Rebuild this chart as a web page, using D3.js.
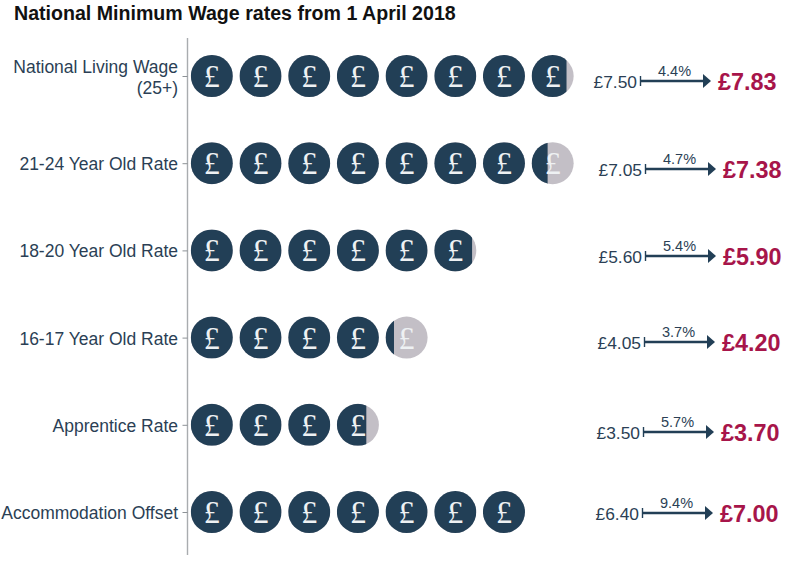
<!DOCTYPE html>
<html><head><meta charset="utf-8">
<script src="https://cdn.jsdelivr.net/npm/d3@7"></script>
<style>html,body{margin:0;padding:0;background:#fff}svg{display:block}</style>
</head><body><div id="c"></div>
<script>
const title = "National Minimum Wage rates from 1 April 2018";
const categories = ["National Living Wage|(25+)","21-24 Year Old Rate","18-20 Year Old Rate","16-17 Year Old Rate","Apprentice Rate","Accommodation Offset"];
const oldRates = [7.50,7.05,5.60,4.05,3.50,6.40];
const newRates = [7.83,7.38,5.90,4.20,3.70,7.00];
const pctRises = ["4.4%","4.7%","5.4%","3.7%","5.7%","9.4%"];
const annotX = [640,645,645,644,643,642];
const annotY = [81,169,256,342,432,513];
const W=802,H=561;
const navy="#223f56", grey="#c3bfc6", crimson="#a7154a", textc="#2b3f55";
const svg=d3.select("#c").append("svg").attr("width",W).attr("height",H);
const defs=svg.append("defs");
const maxCoins=8;
const x=d3.scaleLinear().domain([0,maxCoins]).range([187.5,577]);
const y=d3.scalePoint().domain(categories).range([76,512]);
const r=21;
svg.append("text").attr("x",14).attr("y",20).attr("font-family","Liberation Sans").attr("font-weight","bold").attr("font-size",19.6).attr("fill","#111").text(title);
const axis=d3.axisLeft(y).tickSize(5).tickPadding(3).tickFormat(()=>"" );
const ag=svg.append("g").attr("transform","translate(187.5,0)").call(axis);
ag.select(".domain").attr("d","M0,38V555").attr("stroke","#a9acaf").attr("stroke-width",1.4);
ag.selectAll(".tick line").attr("stroke","#8d9296");
categories.forEach((c,i)=>{
  const g=svg.append("g").attr("transform",`translate(0,${y(c)})`);
  const parts=c.split("|");
  const t=g.append("text").attr("text-anchor","end").attr("font-family","Liberation Sans").attr("font-size",17.5).attr("fill",textc);
  parts.forEach((p,k)=>t.append("tspan").attr("x",178).attr("y",(parts.length>1?-3:7)+k*21).text(p));
  const v=newRates[i], n=Math.ceil(v-1e-9);
  d3.range(n).forEach(k=>{
    const cx=x(k+0.5), frac=Math.min(1,v-k);
    const id=`clip${i}_${k}`;
    defs.append("clipPath").attr("id",id).append("rect").attr("x",cx-r).attr("y",-r).attr("width",2*r*frac).attr("height",2*r);
    g.append("circle").attr("cx",cx).attr("r",r).attr("fill",grey);
    g.append("circle").attr("cx",cx).attr("r",r).attr("fill",navy).attr("clip-path",`url(#${id})`);
    g.append("text").attr("x",cx).attr("y",11).attr("text-anchor","middle").attr("font-family","Liberation Serif").attr("font-size",32).attr("fill","#eef1f3").text("£");
  });
  const ax=annotX[i], ay=annotY[i], aw=71;
  const a=svg.append("g").attr("transform",`translate(${ax},${ay})`);
  a.append("text").attr("x",-3).attr("y",7).attr("text-anchor","end").attr("font-family","Liberation Sans").attr("font-size",17.4).attr("fill",textc).text("£"+d3.format(".2f")(oldRates[i]));
  a.append("line").attr("x1",0).attr("x2",aw-5).attr("y1",0).attr("y2",0).attr("stroke",navy).attr("stroke-width",2.6);
  a.append("line").attr("x1",0.5).attr("x2",0.5).attr("y1",-5).attr("y2",5).attr("stroke",navy).attr("stroke-width",1.4);
  a.append("path").attr("d",`M${aw-8},-7L${aw},0L${aw-8},7Z`).attr("fill",navy);
  a.append("text").attr("x",aw/2-1).attr("y",-5).attr("text-anchor","middle").attr("font-family","Liberation Sans").attr("font-size",14.5).attr("fill",textc).text(pctRises[i]);
  a.append("text").attr("x",aw+7).attr("y",9).attr("font-family","Liberation Sans").attr("font-weight","bold").attr("font-size",23.4).attr("fill",crimson).text("£"+d3.format(".2f")(v));
});
</script></body></html>
